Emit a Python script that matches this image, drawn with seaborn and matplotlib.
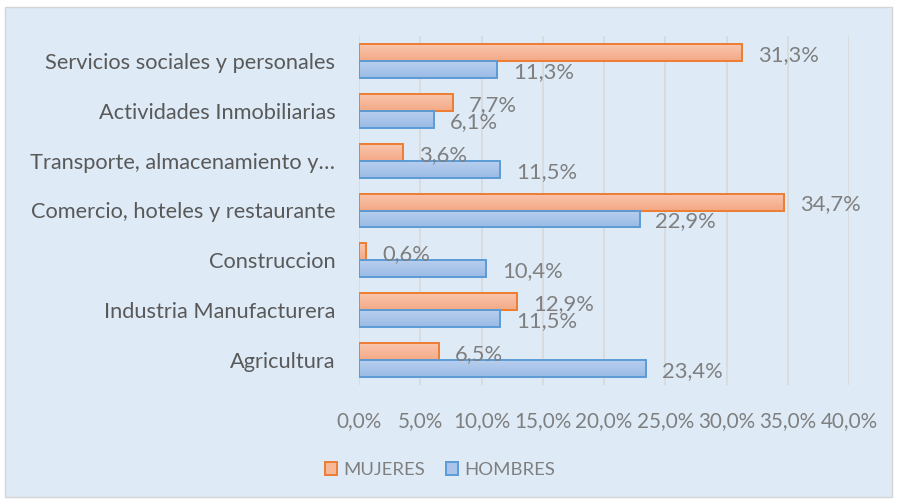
import numpy as np
import pandas as pd
import seaborn as sns
import matplotlib
matplotlib.use("Agg")
import matplotlib.pyplot as plt
from matplotlib.patches import Rectangle, Patch
from matplotlib.colors import to_rgb

categories = [
    "Servicios sociales y personales",
    "Actividades Inmobiliarias",
    "Transporte, almacenamiento y…",
    "Comercio, hoteles y restaurante",
    "Construccion",
    "Industria Manufacturera",
    "Agricultura",
]
mujeres = [31.3, 7.7, 3.6, 34.7, 0.6, 12.9, 6.5]
hombres = [11.3, 6.1, 11.5, 22.9, 10.4, 11.5, 23.4]
series = ["MUJERES", "HOMBRES"]
xticks = [0, 5, 10, 15, 20, 25, 30, 35, 40]

df = pd.DataFrame({
    "Sector": categories * 2,
    "Valor": mujeres + hombres,
    "Serie": [series[0]] * len(categories) + [series[1]] * len(categories),
})

sns.set_theme(style="white")
plt.rcParams['font.family'] = ['Lato', 'DejaVu Sans']

edge = {"MUJERES": "#ED7D31", "HOMBRES": "#5B9BD5"}
grad = {"MUJERES": ("#F9C6AE", "#F4A986"), "HOMBRES": ("#B7CFEF", "#9BBBE5")}
fill = {"MUJERES": "#F7B898", "HOMBRES": "#A9C5EB"}

W, H = 898, 503
fig = plt.figure(figsize=(W / 100, H / 100), dpi=100)
fig.patch.set_facecolor('white')
fig.add_artist(Rectangle((5 / W, 6 / H), 887 / W, 490 / H, transform=fig.transFigure,
                         facecolor='#DEEBF7', edgecolor='#D4D4D4', lw=1, zorder=-10))

ax = fig.add_axes([359 / W, 1 - 385 / H, 490 / W, 349 / H])
ax.set_facecolor('none')

sns.barplot(data=df, y="Sector", x="Valor", hue="Serie", orient='h',
            order=categories, hue_order=series, palette=fill,
            width=0.68, ax=ax, legend=False, linewidth=1.4, saturation=1)

ax.set_xlim(0, 40)
xlim = ax.get_xlim()
ylim = ax.get_ylim()

for cont, s in zip(ax.containers, series):
    c0 = np.array(to_rgb(grad[s][0]))
    c1 = np.array(to_rgb(grad[s][1]))
    t = np.linspace(0, 1, 64)[:, None]
    img = (c0 * (1 - t) + c1 * t)[:, None, :]
    for bar in cont:
        bar.set_edgecolor(edge[s])
        bar.set_facecolor('none')
        bar.set_zorder(3)
        x0 = bar.get_x()
        y0 = bar.get_y()
        w = bar.get_width()
        h = bar.get_height()
        im = ax.imshow(img, extent=[x0, x0 + w, y0 + h, y0], origin='upper',
                       aspect='auto', zorder=2, interpolation='bilinear')
        im.set_clip_path(bar)
        ax.annotate(f"{w:.1f}%".replace('.', ','), xy=(x0 + w, y0 + h / 2),
                    xytext=(11.5, -1.8), textcoords='offset points',
                    ha='left', va='center', fontsize=15.8, color='#7F7F7F', zorder=5)

ax.set_xlim(xlim)
ax.set_ylim(ylim)

ax.set_xticks(xticks)
ax.set_xticklabels([f"{v:.1f}%".replace('.', ',') for v in xticks])
ax.xaxis.grid(True, color='#D9D9D9', lw=1.2, zorder=0)
ax.set_axisbelow(True)
for sp in ax.spines.values():
    sp.set_visible(False)
ax.tick_params(axis='x', length=0, pad=18.5, labelsize=14.9, labelcolor='#7F7F7F')
ax.tick_params(axis='y', length=0, pad=17, labelsize=15.7, labelcolor='#595959')
ax.set_xlabel("")
ax.set_ylabel("")

handles = [Patch(facecolor=fill[s], edgecolor=edge[s], lw=1.4, label=s) for s in series]
fig.legend(handles=handles, loc='center', bbox_to_anchor=(440 / W, 1 - 470 / H), ncol=2,
           frameon=False, fontsize=13.3, labelcolor='#7F7F7F',
           handlelength=0.65, handleheight=0.65, handletextpad=0.35, columnspacing=1.1)

fig.savefig("out.png", dpi=100, facecolor='white')
